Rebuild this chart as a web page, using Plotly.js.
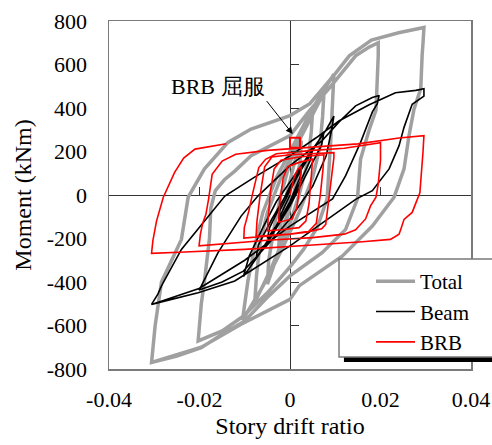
<!DOCTYPE html>
<html><head><meta charset="utf-8">
<script src="https://cdn.plot.ly/plotly-3.0.1.min.js"></script>
<style>html,body{margin:0;padding:0;background:#fff}#chart{width:492px;height:445px}</style>
</head><body><div id="chart"></div>
<script>
// Total (gray)
const totalX = [0,-0.001,-0.0025,
 -0.0022,-0.001,0.001,0.0025,
 0.0022,0.001,-0.001,-0.003,-0.005,
 -0.0047,-0.0035,-0.002,0,0.003,0.005,
 0.0047,0.004,0.002,0,-0.004,-0.0078,
 -0.0074,-0.0066,-0.005,-0.002,0.002,0.0075,
 0.0072,0.0066,0.005,0.002,-0.002,-0.006,-0.0105,
 -0.0093,-0.0075,-0.006,-0.003,0,0.005,0.0097,
 0.0095,0.009,0.0082,0.006,0.003,0,-0.005,-0.0105,-0.015,-0.0203,
 -0.0196,-0.0189,-0.0178,-0.0175,-0.0165,-0.0145,-0.0122,-0.0086,0,0.0044,0.0086,0.0145,0.0175,0.0195,
 0.0195,0.0193,0.019,0.0175,0.0156,0.0149,0.0123,0.0071,0,-0.005,-0.01,-0.015,-0.0196,-0.025,-0.0306,
 -0.0298,-0.0284,-0.024,-0.0225,-0.0189,-0.0137,-0.0086,0,0.0044,0.0101,0.0131,0.018,0.024,0.027,0.0296,
 0.0294,0.0292,0.0289,0.0274,0.0263,0.0252,0.023,0.0182,0.0116,0.002,0,-0.0108,-0.0196,-0.0306];
const totalY = [0,-120,-240,
 -150,-20,150,250,
 150,20,-130,-290,-410,
 -300,-150,0,150,300,390,
 290,160,0,-130,-330,-495,
 -370,-220,-80,80,250,470,
 360,220,80,-80,-260,-420,-575,
 -395,-210,-80,80,200,400,555,
 450,250,-18,-150,-250,-330,-450,-560,-625,-671,
 -500,-395,-200,-60,20,70,110,181,273,390,489,640,680,700,
 640,520,390,300,165,-18,-158,-265,-372,-470,-579,-640,-702,-740,-770,
 -600,-400,-204,-10,120,242,303,365,420,560,640,712,746,758,770,
 700,642,489,395,273,120,-10,-143,-280,-418,-480,-594,-700,-770];

// Beam (black)
const beamX = [0,-0.0025,
 -0.0022,0,0.0025,
 0.0022,0,-0.003,-0.005,
 -0.0045,-0.002,0,0.003,0.005,
 0.0045,0.002,0,-0.004,-0.0075,
 -0.007,-0.004,0,0.004,0.0075,
 0.007,0.004,0,-0.005,-0.0103,
 -0.009,-0.006,-0.003,0,0.004,0.008,0.0097,
 0.0092,0.008,0.005,0,-0.005,-0.0103,-0.015,-0.0201,
 -0.0196,-0.0159,-0.0108,-0.0071,0,0.0071,0.0108,0.0145,0.0182,0.0197,
 0.0193,0.0182,0.0156,0.0123,0.0094,0,-0.01,-0.0201,-0.0306,
 -0.0292,-0.0284,-0.024,-0.0181,-0.0144,-0.008,0,0.0057,0.0108,0.0175,0.0233,0.0278,0.0296,
 0.0296,0.027,0.0252,0.0241,0.0219,0.0182,0.0145,0.0057,0,-0.0122,-0.0203,-0.0306];
const beamY = [0,-110,
 -70,20,120,
 80,-30,-140,-200,
 -150,-40,40,140,210,
 160,50,-40,-180,-290,
 -230,-110,30,170,290,
 230,110,-50,-220,-375,
 -280,-150,-30,60,180,300,363,
 300,180,40,-110,-230,-350,-400,-437,
 -418,-265,-97,-5,135,250,335,410,448,458,
 420,382,242,89,-18,-143,-300,-430,-503,
 -456,-418,-250,-97,-5,80,180,262,340,415,470,481,489,
 455,417,311,227,120,20,-20,-150,-234,-395,-449,-503];

// BRB (red)
const brbX = [0,0.001,0.0018,0.0025,
 0.0023,0.0015,0.0005,-0.0015,-0.0025,
 -0.0023,-0.0015,-0.0005,0.002,0.005,
 0.0048,0.0042,0.0035,0.002,-0.002,-0.005,
 -0.0048,-0.0043,-0.0035,-0.002,0.002,0.0075,
 0.0073,0.0067,0.0058,0.004,0,-0.0075,
 -0.0073,-0.0066,-0.0056,-0.004,0,0.0097,
 0.0097,0.0092,0.0086,0.0079,0.007,0.0049,0,-0.0102,
 -0.0101,-0.0091,-0.0083,-0.0069,-0.0054,-0.003,0.005,0.012,0.02,
 0.02,0.0195,0.019,0.0178,0.0167,0.0145,0.012,0.005,-0.005,-0.0201,
 -0.0198,-0.0193,-0.0186,-0.018,-0.0172,-0.015,-0.012,-0.005,0.005,0.015,0.0241,0.0296,
 0.0294,0.0291,0.0287,0.027,0.0252,0.0246,0.0241,0.0222,0.016,0.005,-0.01,-0.0245,-0.0306,
 -0.0303,-0.0295,-0.028,-0.0255,-0.0235,-0.021,-0.0141];
const brbY = [0,90,120,130,
 60,-60,-110,-120,-125,
 -40,80,130,150,165,
 100,-40,-120,-150,-160,-165,
 -100,20,120,160,175,185,
 120,0,-130,-170,-180,-190,
 -120,0,130,175,185,195,
 172,80,-12,-135,-155,-165,-180,-198,
 -150,-74,3,126,164,190,205,215,240,
 160,50,-10,-50,-110,-160,-180,-196,-208,-234,
 -180,-130,-90,-20,95,156,187,205,220,235,262,273,
 200,100,10,-80,-112,-150,-180,-204,-215,-230,-250,-263,-268,
 -210,-120,-10,104,170,211,236];

// BRB yield marker
const yieldX = [0.0011];
const yieldY = [240];

const seriesNames = ['Total','Beam','BRB'];
const xTickVals = [-0.04,-0.02,0,0.02,0.04];
const xTickText = ['-0.04','-0.02','0','0.02','0.04'];
const yTickVals = [-800,-600,-400,-200,0,200,400,600,800];
const yTickText = ['-800','-600','-400','-200','0','200','400','600','800'];
const xMinorTicks = [-0.02,0.02];
const yMinorTicks = [-600,-400,-200,200,400,600];
const xTitle = 'Story drift ratio';
const yTitle = 'Moment (kNm)';
const annText = 'BRB 屈服';

const serif = 'Liberation Serif, serif';

const traces = [
 {x: totalX, y: totalY, name: seriesNames[0], mode: 'lines', line: {color: '#a0a0a0', width: 3.5}},
 {x: beamX, y: beamY, name: seriesNames[1], mode: 'lines', line: {color: '#000000', width: 1.6}},
 {x: brbX, y: brbY, name: seriesNames[2], mode: 'lines', line: {color: '#ff0000', width: 1.6}},
 {x: yieldX, y: yieldY, mode: 'markers', showlegend: false,
  marker: {symbol: 'square-open', size: 10, color: '#ff0000', line: {width: 2, color: '#ff0000'}}},
 {x: [], y: [], xaxis: 'x2', yaxis: 'y2', showlegend: false, mode: 'lines'}
];

const layout = {
 width: 492, height: 445,
 margin: {l: 109, r: 21, t: 21, b: 76, autoexpand: false},
 paper_bgcolor: '#fff', plot_bgcolor: '#fff',
 font: {family: serif, size: 22, color: '#000'},
 showlegend: true,
 xaxis: {range: [-0.04, 0.04], tickmode: 'array', tickvals: xTickVals, ticktext: xTickText,
  showgrid: false, zeroline: true, zerolinecolor: '#333', zerolinewidth: 1,
  showline: true, mirror: true, linecolor: '#7a7a7a', linewidth: 1.5, ticks: '',
  ticklabelstandoff: 10, tickfont: {family: serif, size: 22, color: '#000'},
  title: {text: xTitle, font: {family: serif, size: 24, color: '#000'}, standoff: 6}},
 yaxis: {range: [-800, 800], tickmode: 'array', tickvals: yTickVals, ticktext: yTickText,
  showgrid: false, zeroline: true, zerolinecolor: '#333', zerolinewidth: 1,
  showline: true, mirror: true, linecolor: '#7a7a7a', linewidth: 1.5, ticks: '',
  ticklabelstandoff: 16, tickfont: {family: serif, size: 22, color: '#000'},
  title: {text: yTitle, font: {family: serif, size: 24, color: '#000'}, standoff: 8}},
 xaxis2: {overlaying: 'x', anchor: 'free', position: 0.5, range: [-0.04, 0.04],
  tickmode: 'array', tickvals: xMinorTicks, ticks: 'inside', ticklen: 8, tickwidth: 1, tickcolor: '#333',
  showticklabels: false, showline: false, showgrid: false, zeroline: false},
 yaxis2: {overlaying: 'y', anchor: 'free', position: 0.5, side: 'left', range: [-800, 800],
  tickmode: 'array', tickvals: yMinorTicks, ticks: 'inside', ticklen: 8, tickwidth: 1, tickcolor: '#333',
  showticklabels: false, showline: false, showgrid: false, zeroline: false},
 legend: {x: 0.7238, y: 0.31, xanchor: 'left', yanchor: 'top', bgcolor: 'rgba(0,0,0,0)',
  borderwidth: 0, font: {size: 21, family: serif, color: '#000'},
  itemwidth: 39, tracegroupgap: 0},
 shapes: [
  {type: 'rect', xref: 'paper', yref: 'paper', x0: 0.649, x1: 1.1, y0: 0.0201, y1: 0.3,
   fillcolor: '#000', line: {width: 0}, layer: 'above'},
  {type: 'rect', xref: 'paper', yref: 'paper', x0: 0.6354, x1: 1.072, y0: 0.0345, y1: 0.316,
   fillcolor: '#fff', line: {width: 1.5, color: '#7a7a7a'}, layer: 'above'}
 ],
 annotations: [{x: 0.0006, y: 280, xref: 'x', yref: 'y', text: annText, showarrow: true,
  arrowhead: 2, arrowsize: 1.4, arrowwidth: 1, arrowcolor: '#000', ax: -26, ay: -33,
  xanchor: 'right', yanchor: 'bottom', font: {size: 22, family: serif, color: '#000'}}]
};

Plotly.newPlot('chart', traces, layout, {displayModeBar: false, staticPlot: true});
</script>
</body></html>
